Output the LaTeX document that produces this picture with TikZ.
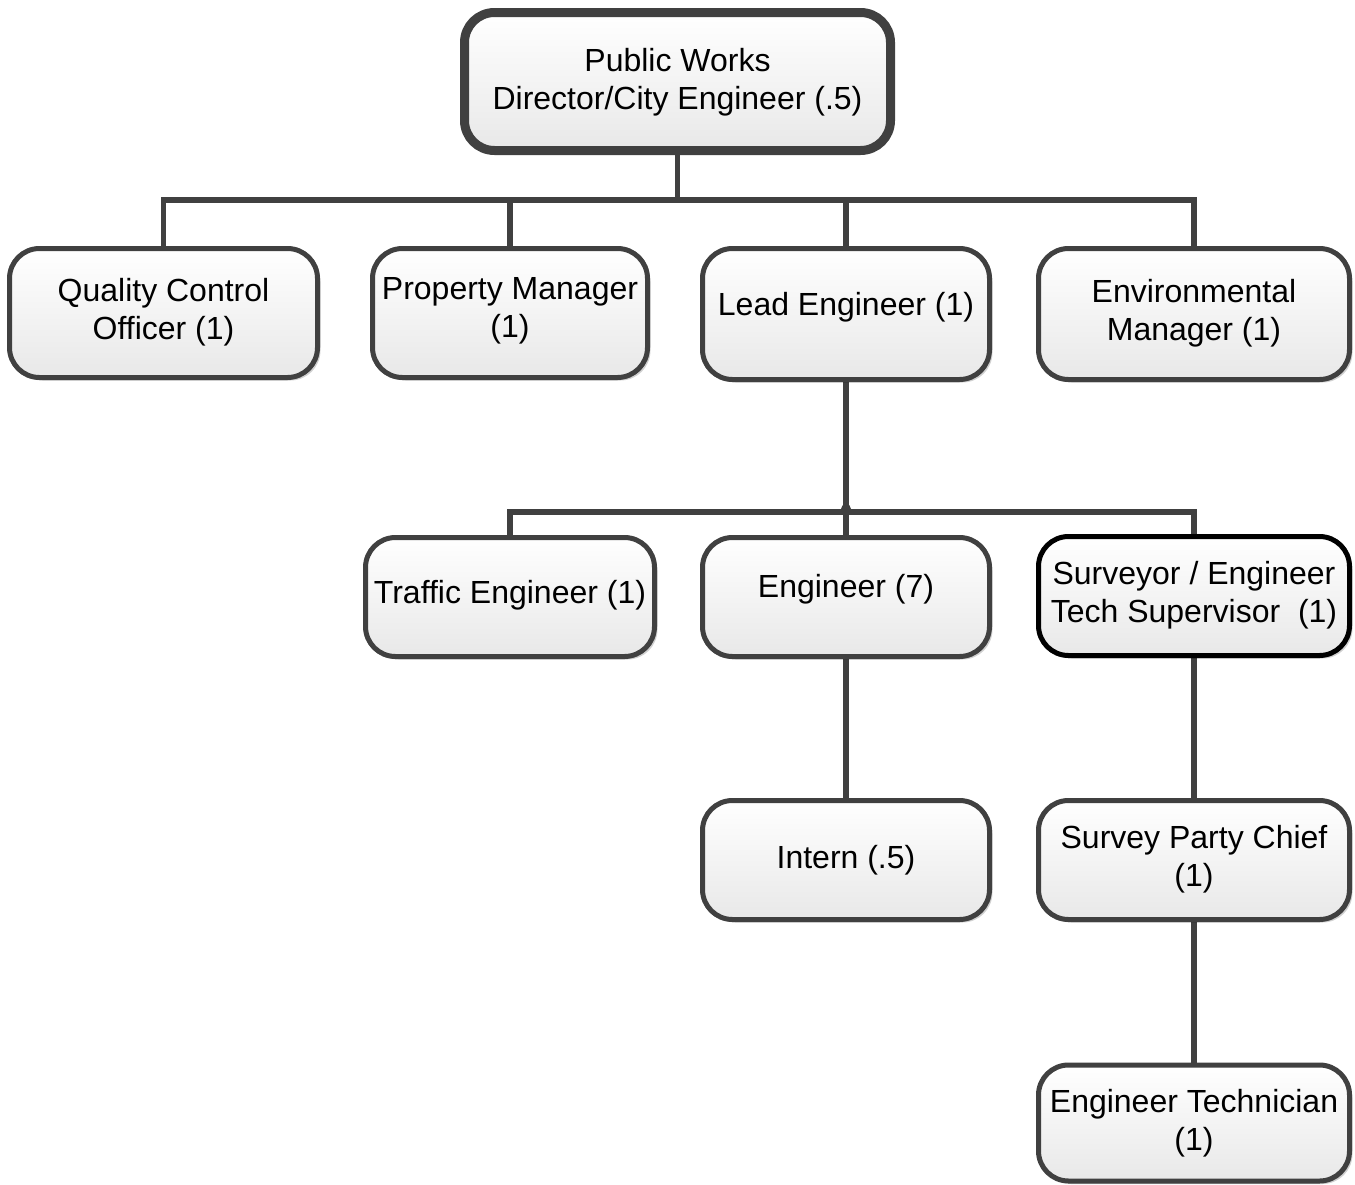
\documentclass[tikz,border=0pt]{standalone}
\usepackage{fontspec}
\setmainfont{Liberation Sans}
\usetikzlibrary{shadows,backgrounds}
\definecolor{edge}{RGB}{64,64,64}
\definecolor{fillbot}{RGB}{232,232,232}
\tikzset{
  box/.style={rectangle, rounded corners=30pt, draw=edge, line width=5pt,
    top color=white, bottom color=fillbot, inner sep=0pt,
    drop shadow={shadow xshift=3pt, shadow yshift=-3pt, opacity=0.18, fill=black}},
  topbox/.style={box, line width=9pt},
  blackbox/.style={box, draw=black},
  txt/.style={align=center, font=\fontsize{32pt}{38pt}\selectfont, inner sep=0pt, text=black},
  conn/.style={draw=edge, line width=5.5pt}
}
\begin{document}
\begin{tikzpicture}[x=1pt, y=-1pt]
\useasboundingbox (0,0) rectangle (1355,1184);
\coordinate (busA) at (0,200);
\coordinate (busB) at (0,512);
\node[topbox, minimum width=426pt, minimum height=138pt] (top) at (677.5,81.5) {};
\node[box, minimum width=308pt, minimum height=129pt] (qc) at (163.5,313) {};
\node[box, minimum width=275pt, minimum height=129pt] (pm) at (510,313) {};
\node[box, minimum width=287pt, minimum height=131pt] (lead) at (846,314) {};
\node[box, minimum width=311pt, minimum height=131pt] (env) at (1194,314) {};
\node[box, minimum width=289pt, minimum height=119pt] (traffic) at (510,597) {};
\node[box, minimum width=287pt, minimum height=119pt] (eng) at (846,597) {};
\node[blackbox, minimum width=311pt, minimum height=119pt] (surv) at (1194,596) {};
\node[box, minimum width=287pt, minimum height=119pt] (intern) at (846,860) {};
\node[box, minimum width=311pt, minimum height=119pt] (spc) at (1194,860) {};
\node[box, minimum width=311pt, minimum height=116pt] (tech) at (1194,1123) {};
\begin{scope}[on background layer]
\fill[white] (0,0) rectangle (1355,1184);
\draw[conn] (top.south) -- (top.south |- busA);
\draw[conn] (qc.north) -- (qc.north |- busA) -- (env.north |- busA) -- (env.north);
\draw[conn] (pm.north) -- (pm.north |- busA);
\draw[conn] (lead.north) -- (lead.north |- busA);
\draw[conn] (lead.south) -- (lead.south |- busB);
\draw[conn] (traffic.north) -- (traffic.north |- busB) -- (surv.north |- busB) -- (surv.north);
\draw[conn] (eng.north) -- (eng.north |- busB);
\fill[edge] ([yshift=3pt]lead.south |- busB) circle (5pt);
\draw[conn] (eng.south) -- (intern.north);
\draw[conn] (surv.south) -- (spc.north);
\draw[conn] (spc.south) -- (tech.north);
\end{scope}
% texts
\node[txt] (topt) at ([yshift=-1pt]top.center) {Public Works\\Director/City Engineer (.5)};
\node[txt] (qct) at ([yshift=1pt]qc.center) {Quality Control\\Officer (1)};
\node[txt] (pmt) at ([yshift=2pt]pm.center) {Property Manager\\(1)};
\node[txt] (leadt) at ([yshift=7pt]lead.center) {Lead Engineer (1)};
\node[txt] (envt) at ([yshift=1pt]env.center) {Environmental\\Manager (1)};
\node[txt] (traffict) at ([yshift=2pt]traffic.center) {Traffic Engineer (1)};
\node[txt] (engt) at ([yshift=8pt]eng.center) {Engineer (7)};
\node[txt] (survt) at ([yshift=1pt]surv.center) {Surveyor / Engineer\\Tech Supervisor\ \ (1)};
\node[txt] (internt) at ([yshift=0pt]intern.center) {Intern (.5)};
\node[txt] (spct) at ([yshift=1pt]spc.center) {Survey Party Chief\\(1)};
\node[txt] (techt) at ([yshift=0pt]tech.center) {Engineer Technician\\(1)};
\end{tikzpicture}
\end{document}
